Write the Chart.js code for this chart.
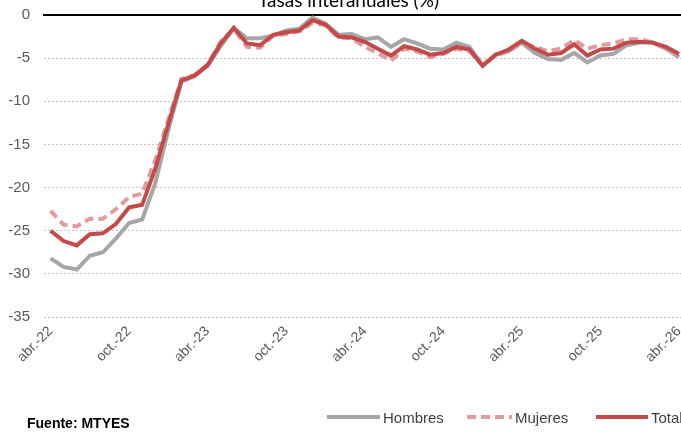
<!DOCTYPE html>
<html lang="es">
<head>
    <meta charset="UTF-8">
    <title>Tasas interanuales (%)</title>
    <script src="https://cdn.jsdelivr.net/npm/chart.js"></script>
    <style>
        html, body { margin: 0; padding: 0; background: #fff; overflow: hidden; }
        .wrap { position: relative; width: 681px; height: 432px; overflow: hidden; }
        #chart { position: absolute; left: 0; top: -8.5px; }
        .fuente {
            position: absolute; left: 27px; top: 415px;
            font: bold 14px "Liberation Sans", Arial, sans-serif; color: #000;
        }
        .leg { position: absolute; top: 408px; height: 18px; display: flex; align-items: center;
               font: 15px "Liberation Sans", Arial, sans-serif; color: #404040; white-space: nowrap; }
        .leg svg { margin-right: 3px; }
    </style>
</head>
<body>
<div class="wrap">
    <canvas id="chart" width="712" height="432" style="width:712px;height:432px"></canvas>
    <div class="fuente">Fuente: MTYES</div>
    <div id="legend"></div>
</div>

<script>
    // Datos (abr.-22 a abr.-26, mensual)
    const meses = ['ene.', 'feb.', 'mar.', 'abr.', 'may.', 'jun.', 'jul.', 'ago.', 'sep.', 'oct.', 'nov.', 'dic.'];
    const tickLabels = ['abr.-22', 'oct.-22', 'abr.-23', 'oct.-23', 'abr.-24', 'oct.-24', 'abr.-25', 'oct.-25', 'abr.-26'];

    const hombres = [-28.2, -29.2, -29.5, -27.9, -27.5, -25.9, -24.1, -23.7, -19.5, -13.3,
                     -7.7, -7.1, -5.9, -3.6, -1.5, -2.7, -2.7, -2.4, -1.8, -1.6,
                     -0.3, -1.0, -2.3, -2.2, -2.8, -2.6, -3.7, -2.8, -3.3, -3.9,
                     -4.0, -3.2, -3.7, -5.8, -4.6, -4.2, -3.2, -4.4, -5.1, -5.2,
                     -4.4, -5.5, -4.7, -4.5, -3.5, -3.2, -3.2, -3.9, -4.9];
    const mujeres = [-22.7, -24.3, -24.5, -23.6, -23.6, -22.5, -21.1, -20.7, -16.8, -12.1,
                     -7.4, -7.0, -5.7, -3.1, -1.6, -3.7, -3.8, -2.4, -2.2, -1.9,
                     -0.9, -1.2, -2.6, -2.7, -3.7, -4.4, -5.3, -3.9, -4.2, -4.9,
                     -4.5, -3.9, -4.2, -5.8, -4.7, -4.2, -3.2, -3.7, -4.2, -3.9,
                     -2.9, -3.9, -3.5, -3.3, -2.8, -2.8, -3.2, -3.9, -4.6];
    const total = [-25.0, -26.2, -26.7, -25.4, -25.3, -24.2, -22.3, -22.0, -17.8, -12.6,
                   -7.6, -7.0, -5.8, -3.3, -1.5, -3.3, -3.5, -2.3, -2.0, -1.8,
                   -0.6, -1.1, -2.5, -2.6, -3.1, -3.9, -4.7, -3.6, -4.0, -4.6,
                   -4.4, -3.7, -4.0, -5.9, -4.6, -4.0, -3.0, -3.9, -4.6, -4.4,
                   -3.4, -4.7, -4.0, -3.9, -3.2, -3.1, -3.2, -3.7, -4.5];

    const titulo = 'Tasas interanuales (%)';

    // categorias mensuales
    const labels = [];
    for (let i = 0; i < total.length; i++) {
        const m = (3 + i) % 12;
        const a = 22 + Math.floor((3 + i) / 12);
        labels.push(meses[m] + '-' + a);
    }

    const tickColor = '#595959';
    const series = [
        { label: 'Hombres', data: hombres, color: '#a6a6a6', dash: [], order: 2 },
        { label: 'Mujeres', data: mujeres, color: '#e09c9c', dash: [9, 5], order: 1 },
        { label: 'Total', data: total, color: '#c44a4a', dash: [], order: 0 }
    ];

    // titulo cortado arriba, como en la imagen original
    const titlePlugin = {
        id: 'cutTitle',
        afterDraw(chart) {
            const ctx = chart.ctx;
            ctx.save();
            ctx.font = '19px Lato, "Open Sans", sans-serif';
            ctx.fillStyle = '#000';
            ctx.textAlign = 'center';
            ctx.textBaseline = 'alphabetic';
            ctx.fillText(titulo, 348.5, 14.5);
            ctx.restore();
        }
    };

    new Chart(document.getElementById('chart'), {
        type: 'line',
        data: {
            labels: labels,
            datasets: series.map(s => ({
                label: s.label,
                data: s.data,
                borderColor: s.color,
                backgroundColor: s.color,
                borderDash: s.dash,
                borderWidth: 4,
                pointRadius: 0,
                tension: 0,
                fill: false,
                order: s.order
            }))
        },
        options: {
            responsive: false,
            animation: false,
            layout: { padding: { top: 4, right: 26.5, left: 0, bottom: 0 } },
            plugins: {
                legend: { display: false },
                tooltip: { enabled: false }
            },
            scales: {
                x: {
                    offset: true,
                    grid: { display: false, drawTicks: false },
                    border: { display: false },
                    ticks: {
                        autoSkip: false,
                        minRotation: 45,
                        maxRotation: 45,
                        padding: 6,
                        color: tickColor,
                        font: { family: '"Liberation Sans", Arial, sans-serif', size: 14 },
                        callback: function (v) {
                            const l = this.getLabelForValue(v);
                            return tickLabels.includes(l) ? l : '';
                        }
                    },
                    afterFit: s => { s.height = 107; }
                },
                xTop: {
                    position: 'top',
                    offset: true,
                    grid: { display: false, drawTicks: false },
                    ticks: { display: false },
                    border: { display: true, color: '#000', width: 2 },
                    afterFit: s => { s.height = 0; }
                },
                y: {
                    min: -35,
                    max: 0,
                    grid: { color: '#c4c4c4', lineWidth: 1, drawTicks: false },
                    border: { display: false, dash: [2, 2] },
                    ticks: {
                        stepSize: 5,
                        padding: 14,
                        color: tickColor,
                        font: { family: '"Liberation Sans", Arial, sans-serif', size: 15 }
                    },
                    afterFit: s => { s.width = 44; }
                }
            }
        },
        plugins: [titlePlugin]
    });

    // leyenda en HTML (posicion como en la figura)
    const legendPos = [327, 467, 596];
    const legendW = [53, 45, 52];
    const legend = document.getElementById('legend');
    series.forEach((s, i) => {
        const d = document.createElement('div');
        d.className = 'leg';
        d.style.left = legendPos[i] + 'px';
        const w = legendW[i];
        d.innerHTML = '<svg width="' + w + '" height="8"><line x1="0" y1="4" x2="' + w + '" y2="4" stroke="' + s.color +
            '" stroke-width="4"' + (s.dash.length ? ' stroke-dasharray="' + s.dash.join(',') + '"' : '') + '/></svg>' + s.label;
        legend.appendChild(d);
    });
</script>
</body>
</html>
